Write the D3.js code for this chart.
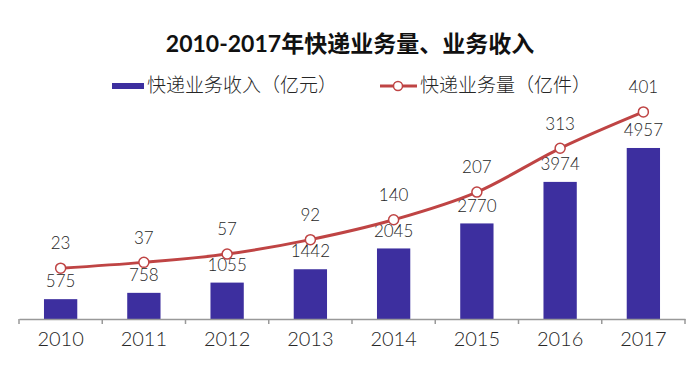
<!DOCTYPE html>
<html>
<head>
<meta charset="utf-8">
<script src="https://cdn.jsdelivr.net/npm/d3@7"></script>
<style>
  body { margin: 0; background: #fff; }
  svg { display: block; font-family: Lato, "Noto Sans CJK SC", sans-serif; }
</style>
</head>
<body>
<div id="chart"></div>
<script>
const years = ["2010", "2011", "2012", "2013", "2014", "2015", "2016", "2017"];
const revenue = [575, 758, 1055, 1442, 2045, 2770, 3974, 4957];
const volume = [23, 37, 57, 92, 140, 207, 313, 401];
const title = "2010-2017年快递业务量、业务收入";
const barName = "快递业务收入（亿元）";
const lineName = "快递业务量（亿件）";

const width = 700;
const height = 370;
const margin = { top: 71, right: 15, bottom: 51, left: 19 };
const baseY = height - margin.bottom;

const barColor = "#3d2f9f";
const lineColor = "#bf4444";
const textColor = "#262626";

const svg = d3
  .select("#chart")
  .append("svg")
  .attr("width", width)
  .attr("height", height);

const x = d3
  .scaleBand()
  .domain(years)
  .range([margin.left, width - margin.right]);

const yBar = d3.scaleLinear().domain([0, 6000]).range([baseY, 112]);
const yLine = d3.scaleLinear().domain([-100, 500]).range([baseY, margin.top]);

// title
svg
  .append("text")
  .attr("x", 350)
  .attr("y", 52)
  .attr("text-anchor", "middle")
  .attr("font-size", 23)
  .attr("font-weight", "bold")
  .attr("fill", "#111")
  .text(title);

// legend
const legend = svg
  .append("g")
  .attr("font-size", 19)
  .attr("font-weight", 300)
  .attr("fill", textColor);
legend
  .append("rect")
  .attr("x", 112)
  .attr("y", 83)
  .attr("width", 32)
  .attr("height", 6)
  .attr("fill", barColor);
legend
  .append("text")
  .attr("x", 147)
  .attr("y", 87)
  .attr("dominant-baseline", "middle")
  .text(barName);
legend
  .append("line")
  .attr("x1", 380)
  .attr("x2", 417)
  .attr("y1", 86)
  .attr("y2", 86)
  .attr("stroke", lineColor)
  .attr("stroke-width", 3);
legend
  .append("circle")
  .attr("cx", 398)
  .attr("cy", 86)
  .attr("r", 4.5)
  .attr("fill", "#fff")
  .attr("stroke", lineColor)
  .attr("stroke-width", 1.5);
legend
  .append("text")
  .attr("x", 420)
  .attr("y", 87)
  .attr("dominant-baseline", "middle")
  .text(lineName);

// bars
const barW = x.bandwidth() * 0.4;
svg
  .selectAll(".bar")
  .data(revenue)
  .enter()
  .append("rect")
  .attr("class", "bar")
  .attr("x", (d, i) => x(years[i]) + (x.bandwidth() - barW) / 2)
  .attr("y", (d) => yBar(d))
  .attr("width", barW)
  .attr("height", (d) => baseY - yBar(d))
  .attr("fill", barColor);

svg
  .selectAll(".bar-label")
  .data(revenue)
  .enter()
  .append("text")
  .attr("class", "bar-label")
  .attr("x", (d, i) => x(years[i]) + x.bandwidth() / 2)
  .attr("y", (d) => yBar(d) - 16)
  .attr("text-anchor", "middle")
  .attr("dominant-baseline", "middle")
  .attr("font-size", 17)
  .attr("font-weight", 300)
  .attr("fill", textColor)
  .text((d) => d);

// x axis
const xAxis = d3.axisBottom(x).tickSize(0).tickPadding(13);
const gx = svg
  .append("g")
  .attr("transform", `translate(0,${baseY})`)
  .call(xAxis);
gx.select(".domain").attr("stroke", "#999").attr("stroke-width", 1.5);
gx.selectAll("text")
  .attr("font-size", 20)
  .attr("font-weight", 300)
  .attr("fill", textColor)
  .attr("font-family", "Lato, sans-serif");
gx.selectAll(".sep")
  .data(d3.range(years.length + 1))
  .enter()
  .append("line")
  .attr("class", "sep")
  .attr("x1", (i) => margin.left + i * x.step())
  .attr("x2", (i) => margin.left + i * x.step())
  .attr("y1", 0)
  .attr("y2", 5)
  .attr("stroke", "#999")
  .attr("stroke-width", 1.5);

// line
const line = d3
  .line()
  .x((d, i) => x(years[i]) + x.bandwidth() / 2)
  .y((d) => yLine(d))
  .curve(d3.curveMonotoneX);

svg
  .append("path")
  .datum(volume)
  .attr("d", line)
  .attr("fill", "none")
  .attr("stroke", lineColor)
  .attr("stroke-width", 3);

svg
  .selectAll(".dot")
  .data(volume)
  .enter()
  .append("circle")
  .attr("class", "dot")
  .attr("cx", (d, i) => x(years[i]) + x.bandwidth() / 2)
  .attr("cy", (d) => yLine(d))
  .attr("r", 5)
  .attr("fill", "#fff")
  .attr("stroke", lineColor)
  .attr("stroke-width", 1.5);

svg
  .selectAll(".line-label")
  .data(volume)
  .enter()
  .append("text")
  .attr("class", "line-label")
  .attr("x", (d, i) => x(years[i]) + x.bandwidth() / 2)
  .attr("y", (d) => yLine(d) - 23)
  .attr("text-anchor", "middle")
  .attr("dominant-baseline", "middle")
  .attr("font-size", 17)
  .attr("font-weight", 300)
  .attr("fill", textColor)
  .text((d) => d);
</script>
</body>
</html>
